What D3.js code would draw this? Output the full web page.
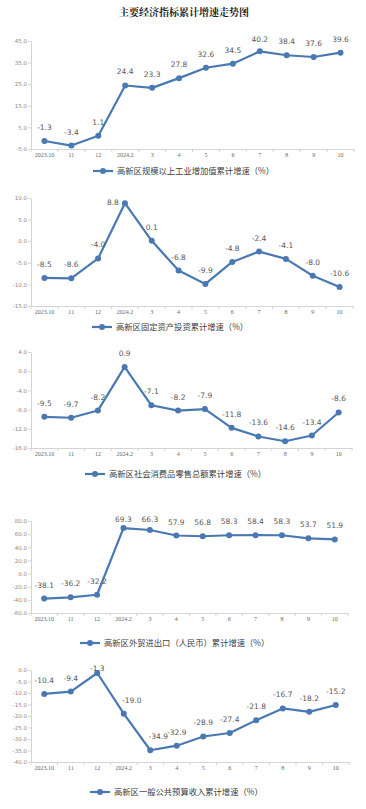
<!DOCTYPE html>
<html><head><meta charset="utf-8">
<script src="https://cdn.jsdelivr.net/npm/d3@7"></script>
<style>
html,body{margin:0;padding:0;background:#fff;}
svg{display:block;}
</style></head>
<body>
<svg id="c" width="366" height="809"></svg>
<script>
const title = "主要经济指标累计增速走势图";
const months = ["2023.10","11","12","2024.2","3","4","5","6","7","8","9","10"];

const industryName = "高新区规模以上工业增加值累计增速（%）";
const industryValues = [-1.3,-3.4,1.1,24.4,23.3,27.8,32.6,34.5,40.2,38.4,37.6,39.6];
const industryTicks = [-5,5,15,25,35,45];

const investName = "高新区固定资产投资累计增速（%）";
const investValues = [-8.5,-8.6,-4.0,8.8,0.1,-6.8,-9.9,-4.8,-2.4,-4.1,-8.0,-10.6];
const investTicks = [-15,-10,-5,0,5,10];

const retailName = "高新区社会消费品零售总额累计增速（%）";
const retailValues = [-9.5,-9.7,-8.2,0.9,-7.1,-8.2,-7.9,-11.8,-13.6,-14.6,-13.4,-8.6];
const retailTicks = [-16,-12,-8,-4,0,4];

const tradeName = "高新区外贸进出口（人民币）累计增速（%）";
const tradeValues = [-38.1,-36.2,-32.2,69.3,66.3,57.9,56.8,58.3,58.4,58.3,53.7,51.9];
const tradeTicks = [-60,-40,-20,0,20,40,60,80];

const budgetName = "高新区一般公共预算收入累计增速（%）";
const budgetValues = [-10.4,-9.4,-1.3,-19.0,-34.9,-32.9,-28.9,-27.4,-21.8,-16.7,-18.2,-15.2];
const budgetTicks = [-40,-35,-30,-25,-20,-15,-10,-5,0];

const svg = d3.select("#c");
const COLOR = "#4a78b3";
const AXIS = "#d4d4d4";
const fmt = v => v.toFixed(1);

svg.append("text").attr("x",184).attr("y",16).attr("text-anchor","middle")
  .attr("font-family","'Noto Serif CJK SC','Noto Sans CJK SC',serif").attr("font-weight","bold")
  .attr("font-size",10).attr("fill","#222").text(title);

const panels = [
  {name:industryName, values:industryValues, ticks:industryTicks, top:41, bottom:149, right:354, legY:171, legX:93},
  {name:investName, values:investValues, ticks:investTicks, top:198, bottom:306, right:353, legY:327, legX:92},
  {name:retailName, values:retailValues, ticks:retailTicks, top:352, bottom:448, right:352, legY:474, legX:85},
  {name:tradeName, values:tradeValues, ticks:tradeTicks, top:521, bottom:613, right:348, legY:643, legX:80},
  {name:budgetName, values:budgetValues, ticks:budgetTicks, top:670, bottom:762, right:349, legY:792, legX:90},
];

panels.forEach((p, pi) => {
  const left = 31;
  const x = d3.scaleBand().domain(months).range([left, p.right]);
  const y = d3.scaleLinear().domain(d3.extent(p.ticks)).range([p.bottom, p.top]);
  const g = svg.append("g");

  // y axis
  const yAx = g.append("g").attr("transform",`translate(${left},0)`)
    .call(d3.axisLeft(y).tickValues(p.ticks).tickFormat(fmt).tickSize(3).tickSizeOuter(0));
  yAx.select(".domain").attr("stroke",AXIS);
  yAx.selectAll(".tick line").attr("stroke",AXIS);
  yAx.selectAll(".tick text").attr("fill","#8a8a8a").attr("font-size",5.5)
    .attr("font-family","'DejaVu Sans',sans-serif").attr("x",-4);

  // x axis
  const xAx = g.append("g").attr("transform",`translate(0,${p.bottom})`)
    .call(d3.axisBottom(x).tickSize(0).tickSizeOuter(0));
  xAx.select(".domain").attr("stroke",AXIS);
  xAx.selectAll(".tick text").attr("fill","#666").attr("font-size",6)
    .attr("font-family","'Liberation Serif',serif").attr("dy","0.9em").attr("y",3);
  const bounds = months.map(m => x(m)).concat([p.right]);
  g.selectAll("line.bt").data(bounds).join("line").attr("class","bt")
    .attr("x1",d=>d).attr("x2",d=>d).attr("y1",p.bottom).attr("y2",p.bottom+3)
    .attr("stroke",AXIS);

  const cx = (d,i) => x(months[i]) + x.bandwidth()/2;
  const line = d3.line().x((d,i)=>cx(d,i)).y(d=>y(d));
  g.append("path").datum(p.values).attr("d",line).attr("fill","none")
    .attr("stroke",COLOR).attr("stroke-width",2.2).attr("stroke-linejoin","round");
  g.selectAll("circle").data(p.values).join("circle")
    .attr("cx",cx).attr("cy",d=>y(d)).attr("r",3).attr("fill",COLOR);

  g.selectAll("text.lab").data(p.values).join("text").attr("class","lab")
    .attr("x",(d,i)=>{
      let v = cx(d,i);
      if (pi===1 && i===3) v -= 12;
      if (pi===4 && (i===3 || i===4)) v += 8;
      return v; })
    .attr("y",(d,i)=>{
      let v = y(d) - 11;
      if (pi===1 && i===3) v = y(d)+2;
      if (v < p.top + 1) v = p.top + 1;
      return v; })
    .attr("text-anchor","middle").attr("font-size",7.5)
    .attr("font-family","'DejaVu Sans',sans-serif").attr("fill","#595959")
    .text(fmt);

  // legend
  const lg = svg.append("g");
  lg.append("line").attr("x1",p.legX).attr("x2",p.legX+20).attr("y1",p.legY).attr("y2",p.legY)
    .attr("stroke",COLOR).attr("stroke-width",2.2);
  lg.append("circle").attr("cx",p.legX+10).attr("cy",p.legY).attr("r",3).attr("fill",COLOR);
  lg.append("text").attr("x",p.legX+24).attr("y",p.legY).attr("dy","0.35em")
    .attr("font-size",8.3).attr("font-family","'Noto Sans CJK SC',sans-serif").attr("fill","#404040")
    .text(p.name);
});
</script>
</body></html>
